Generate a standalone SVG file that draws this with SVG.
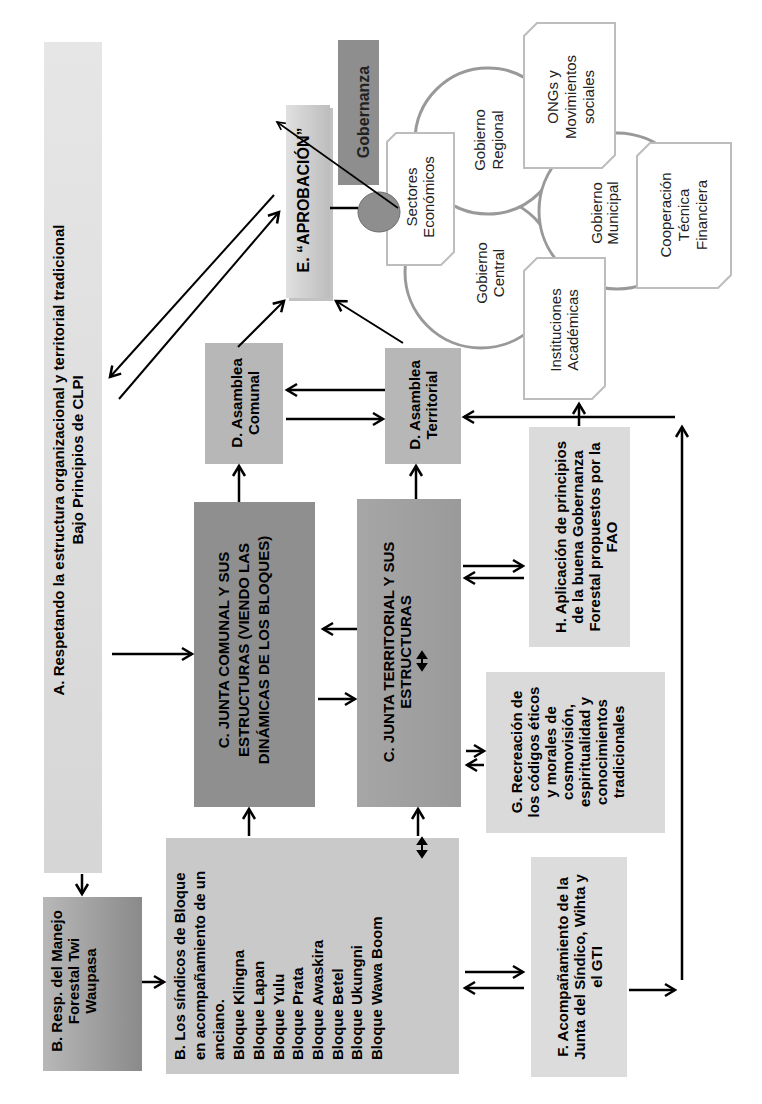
<svg xmlns="http://www.w3.org/2000/svg" width="762" height="1104" viewBox="0 0 762 1104">
<defs>
<style>
.b{font-family:"Liberation Sans",Arial,sans-serif;font-weight:bold;font-size:15px;fill:#000;text-anchor:middle}
.bs{font-family:"Liberation Sans",Arial,sans-serif;font-weight:bold;font-size:15px;fill:#000;text-anchor:start}
.r{font-family:"Liberation Sans",Arial,sans-serif;font-size:15px;fill:#222;text-anchor:middle}
.c{stroke:#000;stroke-width:2.5;fill:none;marker-end:url(#ah)}
.cd{stroke:#000;stroke-width:2;fill:none;marker-end:url(#ah)}
.circ{fill:#fff;stroke:#999;stroke-width:3}
.snip{fill:#fff;stroke:#bdbdbd;stroke-width:2}
.dbl{fill:#000;stroke:#000;stroke-width:2}
</style>
<marker id="ah" markerUnits="userSpaceOnUse" markerWidth="16" markerHeight="16" viewBox="0 0 16 16" refX="13" refY="8" orient="auto">
<path d="M3,2 L13,8 L3,14" fill="none" stroke="#000" stroke-width="2.5"/>
</marker>
<marker id="as" markerUnits="userSpaceOnUse" markerWidth="12" markerHeight="12" viewBox="0 0 12 12" refX="10" refY="6" orient="auto">
<path d="M2,2 L10,6 L2,10" fill="none" stroke="#000" stroke-width="1.6"/>
</marker>
<linearGradient id="gA" x1="0" y1="0" x2="0" y2="1"><stop offset="0" stop-color="#e6e6e6"/><stop offset="1" stop-color="#d6d6d6"/></linearGradient>
<linearGradient id="gE" x1="0" y1="0" x2="1" y2="0"><stop offset="0" stop-color="#e0e0e0"/><stop offset="1" stop-color="#bdbdbd"/></linearGradient>
<linearGradient id="gR" x1="0" y1="0" x2="1" y2="0"><stop offset="0" stop-color="#b8b8b8"/><stop offset="1" stop-color="#8a8a8a"/></linearGradient>
<linearGradient id="gT" x1="0" y1="0" x2="1" y2="0"><stop offset="0" stop-color="#a6a6a6"/><stop offset="1" stop-color="#9a9a9a"/></linearGradient>
</defs>

<g id="nodeA">
<rect x="44" y="42" width="58" height="831" fill="url(#gA)"/>
<text class="b" transform="rotate(-90)"><tspan x="-460" y="64">A. Respetando la estructura organizacional y territorial tradicional</tspan><tspan x="-460" y="83">Bajo Principios de CLPI</tspan></text>
</g>

<g id="gobernanza">
<rect x="338" y="40" width="41" height="145" fill="#8e8e8e"/>
<text class="b" style="font-size:16px;fill:#222" transform="rotate(-90)" x="-112" y="369">Gobernanza</text>
</g>

<g id="nodeE">
<rect x="289" y="108" width="44" height="193" fill="#9a9a9a" opacity="0.6"/>
<rect x="286" y="105" width="44" height="193" fill="url(#gE)"/>
<text class="b" style="font-size:16px" transform="rotate(-90)" x="-200" y="309">E. “APROBACIÓN”</text>
</g>

<g id="circles">
<circle id="gobCentral" class="circ" cx="481" cy="272" r="76"/>
<circle id="gobRegional" class="circ" cx="488" cy="141" r="73"/>
<circle id="gobMunicipal" class="circ" cx="617" cy="211" r="78"/>
<text class="r" transform="rotate(-90)"><tspan x="-140" y="485">Gobierno</tspan><tspan x="-140" y="503">Regional</tspan></text>
<text class="r" transform="rotate(-90)"><tspan x="-273" y="487">Gobierno</tspan><tspan x="-273" y="504">Central</tspan></text>
<text class="r" transform="rotate(-90)"><tspan x="-213" y="602">Gobierno</tspan><tspan x="-213" y="618">Municipal</tspan></text>
</g>

<g id="sectores">
<path class="snip" d="M396,133 L454,133 L454,252 L441,265 L387,265 L387,142 Z"/>
<text class="r" transform="rotate(-90)"><tspan x="-197" y="417">Sectores</tspan><tspan x="-197" y="434">Económicos</tspan></text>
</g>

<g id="ongs">
<path class="snip" d="M537,23 L615,23 L615,155 L602,168 L524,168 L524,36 Z"/>
<text class="r" transform="rotate(-90)"><tspan x="-97" y="558">ONGs y</tspan><tspan x="-97" y="576">Movimientos</tspan><tspan x="-97" y="594">sociales</tspan></text>
</g>

<g id="cooperacion">
<path class="snip" d="M650,143 L731,143 L731,275 L718,288 L637,288 L637,156 Z"/>
<text class="r" transform="rotate(-90)"><tspan x="-215" y="671">Cooperación</tspan><tspan x="-215" y="689">Técnica</tspan><tspan x="-215" y="707">Financiera</tspan></text>
</g>

<g id="instituciones">
<path class="snip" d="M537,258 L605,258 L605,386 L592,399 L524,399 L524,271 Z"/>
<text class="r" transform="rotate(-90)"><tspan x="-330" y="561">Instituciones</tspan><tspan x="-330" y="578">Académicas</tspan></text>
</g>

<g id="hub">
<ellipse cx="379" cy="212" rx="21" ry="20" fill="#8e8e8e" stroke="#6e6e6e" stroke-width="1"/>
</g>

<g id="asambleaComunal">
<rect x="205" y="343" width="78" height="121" fill="#b7b7b7"/>
<text class="b" transform="rotate(-90)"><tspan x="-403" y="242">D. Asamblea</tspan><tspan x="-403" y="259">Comunal</tspan></text>
</g>

<g id="asambleaTerritorial">
<rect x="385" y="348" width="76" height="116" fill="#b7b7b7"/>
<text class="b" transform="rotate(-90)"><tspan x="-405" y="420">D. Asamblea</tspan><tspan x="-405" y="437">Territorial</tspan></text>
</g>

<g id="juntaComunal">
<rect x="194" y="502" width="121" height="305" fill="#8f8f8f"/>
<text class="b" transform="rotate(-90)"><tspan x="-650" y="229">C. JUNTA COMUNAL Y SUS</tspan><tspan x="-650" y="249">ESTRUCTURAS (VIENDO LAS</tspan><tspan x="-650" y="269">DINÁMICAS DE LOS BLOQUES)</tspan></text>
</g>

<g id="juntaTerritorial">
<rect x="357" y="499" width="104" height="308" fill="url(#gT)"/>
<text class="b" transform="rotate(-90)"><tspan x="-652" y="394">C. JUNTA TERRITORIAL Y SUS</tspan><tspan x="-652" y="411">ESTRUCTURAS</tspan></text>
<path class="dbl" d="M422,657 L422,665"/>
<path class="dbl" d="M418,658 L422,652 L426,658 Z M418,664 L422,670 L426,664 Z"/>
</g>

<g id="nodeH">
<rect x="529" y="427" width="101" height="220" fill="#dbdbdb"/>
<text class="b" transform="rotate(-90)"><tspan x="-537" y="566">H. Aplicación de principios</tspan><tspan x="-537" y="583">de la buena Gobernanza</tspan><tspan x="-537" y="600">Forestal propuestos por la</tspan><tspan x="-537" y="617">FAO</tspan></text>
</g>

<g id="nodeG">
<rect x="486" y="672" width="179" height="161" fill="#dadada"/>
<text class="b" transform="rotate(-90)"><tspan x="-752" y="522">G. Recreación de</tspan><tspan x="-752" y="539">los códigos éticos</tspan><tspan x="-752" y="556">y morales de</tspan><tspan x="-752" y="573">cosmovisión,</tspan><tspan x="-752" y="590">espiritualidad y</tspan><tspan x="-752" y="607">conocimientos</tspan><tspan x="-752" y="624">tradicionales</tspan></text>
</g>

<g id="nodeF">
<rect x="531" y="857" width="96" height="220" fill="#dcdcdc"/>
<text class="b" transform="rotate(-90)"><tspan x="-967" y="568">F. Acompañamiento de la</tspan><tspan x="-967" y="585">Junta del Síndico, Wihta y</tspan><tspan x="-967" y="602">el GTI</tspan></text>
</g>

<g id="sindicos">
<rect x="166" y="838" width="293" height="236" fill="#c9c9c9"/>
<text class="bs" transform="rotate(-90)"><tspan x="-1060" y="185">B. Los síndicos de Bloque</tspan><tspan x="-1060" y="204.7">en acompañamiento de un</tspan><tspan x="-1060" y="224.4">anciano.</tspan><tspan x="-1060" y="244.1">Bloque Klingna</tspan><tspan x="-1060" y="263.8">Bloque Lapan</tspan><tspan x="-1060" y="283.5">Bloque Yulu</tspan><tspan x="-1060" y="303.2">Bloque Prata</tspan><tspan x="-1060" y="322.9">Bloque Awaskira</tspan><tspan x="-1060" y="342.6">Bloque Betel</tspan><tspan x="-1060" y="362.3">Bloque Ukungni</tspan><tspan x="-1060" y="382">Bloque Wawa Boom</tspan></text>
</g>

<g id="respManejo">
<rect x="43" y="897" width="99" height="174" fill="url(#gR)"/>
<text class="b" transform="rotate(-90)"><tspan x="-981" y="62">B. Resp. del Manejo</tspan><tspan x="-981" y="79">Forestal Twi</tspan><tspan x="-981" y="96">Waupasa</tspan></text>
</g>

<g id="connectors">
<line class="c" x1="82" y1="874" x2="82" y2="894"/>
<line class="c" x1="142" y1="982" x2="164" y2="982"/>
<line class="c" x1="112" y1="654" x2="192" y2="654"/>
<line class="cd" x1="274" y1="195" x2="110" y2="377"/>
<line class="cd" x1="119" y1="399" x2="279" y2="212"/>
<line class="cd" x1="238" y1="347" x2="284" y2="301"/>
<line class="cd" x1="403" y1="343" x2="336" y2="301"/>
<line x1="330" y1="208" x2="358" y2="208" stroke="#000" stroke-width="2.5"/>
<line x1="398" y1="208" x2="277" y2="122" stroke="#000" stroke-width="1.6" marker-end="url(#as)"/>
<line class="c" x1="385" y1="390" x2="287" y2="390"/>
<line class="c" x1="286" y1="419" x2="383" y2="419"/>
<line class="c" x1="239" y1="502" x2="239" y2="466"/>
<line class="c" x1="416" y1="499" x2="416" y2="466"/>
<line class="c" x1="357" y1="629" x2="323" y2="629"/>
<line class="c" x1="318" y1="699" x2="355" y2="699"/>
<line class="c" x1="463" y1="566" x2="523" y2="566"/>
<line class="c" x1="524" y1="578" x2="465" y2="578"/>
<line class="c" x1="466" y1="751" x2="484" y2="751"/>
<line class="c" x1="484" y1="765" x2="467" y2="765"/>
<line class="c" x1="249" y1="836" x2="249" y2="809"/>
<line class="c" x1="418" y1="836" x2="418" y2="809"/>
<path class="dbl" d="M422,843 L422,852"/>
<path class="dbl" d="M418,844 L422,838 L426,844 Z M418,851 L422,857 L426,851 Z"/>
<line class="c" x1="465" y1="972" x2="523" y2="972"/>
<line class="c" x1="524" y1="988" x2="465" y2="988"/>
<line class="c" x1="629" y1="990" x2="675" y2="990"/>
<line class="c" x1="682" y1="980" x2="682" y2="427"/>
<line class="c" x1="675" y1="417" x2="464" y2="417"/>
<line class="c" x1="579" y1="426" x2="579" y2="404"/>
</g>
</svg>
